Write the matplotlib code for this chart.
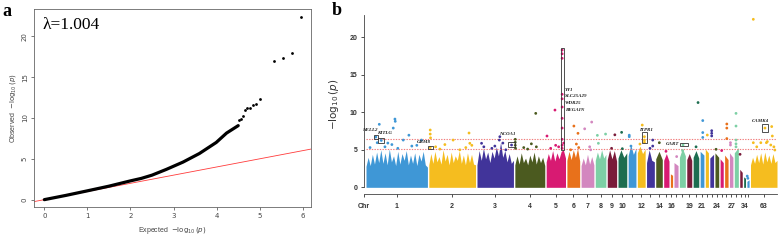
import matplotlib.pyplot as plt
import numpy as np
from matplotlib.patches import Rectangle

# ---------------- data ----------------
# panel a: QQ plot (expected vs observed -log10 p)
qq_expected = [0, 0.5, 1.0, 1.5, 2.0, 2.25, 2.5, 2.83, 3.22, 3.6, 3.99, 4.23, 4.5]
qq_observed = [0, 0.52, 1.08, 1.65, 2.3, 2.6, 3.0, 3.7, 4.6, 5.65, 7.0, 8.15, 9.06]
tail_expected = [4.52, 4.57, 4.6, 4.65, 4.7, 4.77, 4.85, 4.92, 5.0, 5.33, 5.53, 5.74, 5.96]
tail_observed = [9.7, 9.9, 10.3, 11.0, 11.26, 11.26, 11.6, 11.74, 12.3, 17.0, 17.3, 17.9, 22.4]
lambda_gc = 1.004

# panel b: Manhattan plot
chrom_labels = ['1', '2', '3', '4', '5', '6', '7', '8', '9', '10', '', '12', '', '14', '',
                '16', '', '', '19', '', '21', '', '', '24', '', '', '27', '', '', '34', '', '63']
chrom_len = [197, 150, 117, 96, 62, 41, 41, 34, 30, 28, 25, 25, 25, 21, 17, 7,
             13, 19, 16, 18, 12, 10, 12, 12, 10, 11, 11, 13, 8, 6, 7, 85]
# upper envelope of the dense mass of SNPs in each chromosome
chrom_env = [
    [2.8, 4.0, 2.9, 4.4, 3.1, 4.7, 3.3, 5.0, 3.2, 4.6, 3.0, 5.1, 3.4, 4.2, 2.9,
     4.8, 3.1, 4.5, 3.6, 4.9, 3.0, 4.3, 3.2, 4.6, 2.9, 4.4, 3.5, 4.8, 3.0, 2.7],
    [3.0, 4.5, 3.2, 4.8, 3.4, 4.1, 3.1, 5.0, 3.5, 4.4, 3.0, 4.7, 3.3, 4.2, 3.6,
     4.9, 3.2, 4.3, 3.0, 4.6, 3.3, 4.4, 3.1, 3.0],
    [3.0, 4.9, 3.6, 5.2, 3.8, 4.7, 3.3, 4.8, 3.9, 5.4, 4.2, 6.0, 4.0, 4.9, 3.4, 4.5, 3.2, 3.6],
    [3.0, 4.2, 3.1, 4.6, 3.3, 3.9, 3.0, 4.3, 3.4, 4.7, 3.1, 4.2, 3.3, 4.0, 2.9],
    [3.4, 4.5, 3.6, 4.9, 3.5, 4.6, 3.8, 4.8, 5.0, 3.9],
    [3.6, 4.8, 3.7, 5.0, 4.0, 5.2, 3.5],
    [2.9, 3.9, 3.0, 4.4, 3.1, 4.1, 3.0],
    [3.6, 4.7, 3.8, 5.0, 3.9, 4.4],
    [3.7, 5.0, 3.8, 4.9, 3.5],
    [3.9, 5.0, 4.0, 4.6],
    [4.2, 5.7, 4.4, 5.2],
    [4.6, 5.5, 4.5, 5.1],
    [3.3, 5.0, 3.6, 3.4],
    [3.8, 4.8, 3.7],
    [3.6, 4.5, 3.5],
    [1.8, 1.6],
    [3.3, 2.9],
    [4.0, 5.2, 4.2],
    [3.7, 4.5, 3.6],
    [4.0, 4.9, 3.9],
    [4.8, 4.3],
    [5.1, 4.6],
    [3.9, 4.4],
    [4.6, 4.0],
    [3.8, 3.3],
    [4.3, 3.7],
    [4.6, 4.0],
    [4.6, 5.3],
    [2.4, 2.0],
    [1.4, 1.2],
    [0.8, 1.0],
    [3.0, 4.0, 3.2, 4.4, 3.3, 4.6, 3.1, 4.7, 3.4, 4.3, 3.2, 4.5, 3.3, 3.6],
]
# individual SNPs above the dense mass: chromosome (1-based), position (Mb), -log10 p
pt_chr = ([1] * 17 + [2] * 13 + [3] * 9 + [4] * 9 + [5] * 17 + [6] * 5 + [7] * 4 + [8] * 3
          + [9] * 2 + [10] * 2 + [11] * 3 + [12] * 5 + [13] * 3 + [14, 15, 17] + [18] * 2
          + [20] * 2 + [21] * 3 + [22] + [23] * 3 + [24, 25] + [26] * 3 + [27] * 2 + [28] * 5
          + [29] + [31] * 2 + [32] * 12)
pt_pos = [42.6, 92.8, 93.8, 87.4, 137.6, 119.4, 31.5, 49, 36, 60.8, 178, 83, 147, 102, 13, 163, 70,
          4.5, 4.5, 5.5, 4.5, 21.8, 51.5, 78, 129, 131.5, 35.5, 99.5, 118.7, 138,
          73.3, 71.7, 14.7, 22, 47.7, 57.3, 83, 110.9, 92.5,
          67, 53, 1.3, 1.3, 1.3, 2.2, 28.5, 69, 41,
          28.2, 2.6, 30.4, 51.2, 51.2, 51.2, 51.2, 51.2, 51.2, 51.2, 51.2, 51.2, 51.2, 51.2, 14.4, 40, 56,
          22.4, 35.5, 30.4, 37.8, 12,
          11.5, 34, 27.5, 30.7,
          6.7, 10, 33,
          24.3, 13.8,
          11.5, 13.8,
          3.5, 3.5, 9,
          15.7, 22.7, 22.7, 22.7, 8.3,
          19.8, 19.8, 11,
          11.5, 7.4, 8.6,
          11.5, 10,
          15.7, 9.3,
          8.3, 8.3, 8.3,
          6.4,
          6, 6, 6,
          3.5, 5,
          7, 7, 7,
          3.2, 3.2,
          5.5, 5.5, 5.5, 5.5, 5.5,
          1,
          1, 3,
          9, 46.4, 68, 70, 9, 51, 65, 20, 78, 33, 54, 75]
pt_logp = [8.4, 9.1, 8.8, 7.9, 6.95, 6.3, 6.7, 6.25, 5.95, 5.4, 6.3, 5.7, 5.5, 5.2, 5.3, 5.6, 5.9,
           7.64, 7.1, 6.6, 5.3, 5.4, 5.7, 6.3, 7.24, 5.87, 5.1, 5.0, 5.3, 5.6,
           6.75, 6.3, 5.87, 5.4, 5.2, 5.5, 5.9, 5.64, 5.0,
           9.86, 5.8, 6.4, 6.0, 5.6, 5.2, 5.3, 5.4, 5.1,
           10.3, 6.84, 5.6, 18.3, 17.8, 17.2, 12.4, 11.8, 10.7, 9.2, 7.9, 6.4, 5.6, 5.2, 5.2, 5.4, 5.9,
           8.17, 7.2, 5.77, 5.3, 5.0,
           7.8, 8.7, 5.4, 5.0,
           6.93, 5.87, 7.1,
           7.0, 5.2,
           7.33, 5.15,
           6.95, 6.75, 5.5,
           8.3, 6.75, 6.3, 6.0, 5.77,
           6.3, 5.5, 5.2,
           5.95, 4.8, 4.1,
           5.65, 4.9,
           11.3, 5.4,
           8.9, 7.3, 6.65,
           6.97,
           7.55, 7.2, 6.85,
           5.07, 4.9,
           8.44, 7.9, 6.5,
           5.95, 5.64,
           9.86, 8.17, 6.3, 5.8, 5.4,
           4.4,
           1.5, 1.2,
           22.4, 7.9, 8.1, 6.84, 5.95, 5.95, 5.64, 5.4, 4.97, 5.95, 6.1, 5.4]
thresholds = [6.4, 5.15]
# highlighted regions: chromosome, centre (Mb), width (Mb), low, high
box_chr = [1, 1, 2, 3, 5, 12, 18, 32]
box_pos = [31.5, 49, 4.5, 110.9, 51.2, 22.7, 14.7, 46.5]
box_width = [11.8, 19.2, 16, 21.6, 9.6, 16, 23.6, 21.2]
box_low = [6.4, 5.95, 5.07, 5.33, 5.0, 5.85, 5.45, 7.4]
box_high = [7.0, 6.6, 5.55, 6.08, 18.6, 7.35, 5.9, 8.4]
gene_names = ['NELL2', 'KITLG', 'GRM8', 'NCOA1', 'YY1', 'SLC25A29', 'WDR25', 'BEGAIN',
              'ITPR1', 'GART', 'CAMK4']

colors = ['#3F97D6', '#F5BD1F', '#41349A', '#4B5A1F', '#D81A72',
          '#E8711B', '#D387BF', '#7DD0A5', '#7A1C3A', '#1D6D50']

# ---------------- figure ----------------
W, H = 778, 240
fig = plt.figure(figsize=(W / 100, H / 100), dpi=100)


def px_axes(left, top, right, bottom):
    return fig.add_axes([left / W, 1 - bottom / H, (right - left) / W, (bottom - top) / H])


sans = ['Liberation Sans', 'DejaVu Sans']
serif = ['Liberation Serif', 'DejaVu Serif']

# ---- panel a ----
ax1 = px_axes(34, 9.3, 311, 207)
ax1.plot([-1, 7], [-1, 7], color='#ff3b3b', lw=0.6, zorder=1)
ax1.plot(qq_expected, qq_observed, color='black', lw=2.3, solid_capstyle='round', zorder=2)
ax1.scatter(tail_expected, tail_observed, s=4, color='black', lw=0, zorder=3)
ax1.set_xlim(-0.24, 6.19)
ax1.set_ylim(-0.9, 23.3)
ax1.set_xticks(range(7))
ax1.set_yticks([0, 5, 10, 15, 20])
ax1.tick_params(direction='out', length=2.5, width=0.5, labelsize=5, colors='#444', pad=2)
for lab in ax1.get_yticklabels():
    lab.set_rotation(90)
    lab.set_va('center')
for sp in ax1.spines.values():
    sp.set_color('#666')
    sp.set_linewidth(0.6)
ax1.set_xlabel('Expected  $-\\log_{10}(\\it{p})$', fontsize=5, color='#444', family=sans, labelpad=4)
ax1.set_ylabel('Observed  $-\\log_{10}(\\it{p})$', fontsize=5, color='#444', family=sans, labelpad=3)
ax1.text(0.03, 0.96, '\u03bb=%.3f' % lambda_gc, transform=ax1.transAxes, family=serif,
         fontsize=12.5, va='top', ha='left')
fig.text(2 / W, 1 - 3 / H, 'a', family=serif, fontsize=13, fontweight='bold', va='top')

# ---- panel b ----
gap = 4.5
starts = np.concatenate([[0], np.cumsum(np.array(chrom_len[:-1]) + gap)])
total = starts[-1] + chrom_len[-1]
ax2 = px_axes(363.7, 14.8, 777, 194.3)
ax2.set_xlim(-7.4, total)
ax2.set_ylim(-0.93, 23.0)

for i, (L, env) in enumerate(zip(chrom_len, chrom_env)):
    xs = starts[i] + np.linspace(0, L, len(env))
    ax2.fill_between(xs, 0, env, color=colors[i % 10], lw=0, zorder=1)

for y in thresholds:
    ax2.hlines(y, 0, total, colors='#f07c7c', linestyles=(0, (1.2, 1.2)), lw=0.8, zorder=2)

px_x = [starts[c - 1] + p for c, p in zip(pt_chr, pt_pos)]
pt_col = [colors[(c - 1) % 10] for c in pt_chr]
ax2.scatter(px_x, pt_logp, s=4, c=pt_col, lw=0, zorder=3)

for c, p, w, lo, hi in zip(box_chr, box_pos, box_width, box_low, box_high):
    ax2.add_patch(Rectangle((starts[c - 1] + p - w / 2, lo), w, hi - lo, fill=False,
                            ec='#333', lw=0.6, zorder=4))

label_x = [12.8, 59.3, 186.1, 452.3, 638.7, 638.7, 638.7, 638.7, 899.2, 984.9, 1264]
label_y = [7.7, 7.2, 6.1, 7.15, 13.0, 12.2, 11.3, 10.35, 7.6, 5.77, 8.9]
label_ha = ['center'] * 4 + ['left'] * 4 + ['center'] * 3
for name, x, y, ha in zip(gene_names, label_x, label_y, label_ha):
    ax2.text(x, y, name, family=serif, style='italic', fontweight='bold', fontsize=3.6,
             ha=ha, va='center', color='#222', zorder=5)

centers = starts + np.array(chrom_len) / 2
ax2.set_xticks([-7.4] + list(centers))
ax2.set_xticklabels(['Chr'] + chrom_labels)
ax2.set_yticks([0, 5, 10, 15, 20])
ax2.tick_params(axis='y', direction='out', length=2.5, width=0.6, labelsize=5, colors='#333', pad=2)
ax2.tick_params(axis='x', direction='out', length=2.5, width=0.6, labelsize=5, colors='#333', pad=4)
for lab in ax2.get_xticklabels() + ax2.get_yticklabels():
    lab.set_fontweight('bold')
    lab.set_family(sans)
ax2.spines['top'].set_visible(False)
ax2.spines['right'].set_visible(False)
ax2.spines['left'].set_bounds(0, 23)
for sp in ('left', 'bottom'):
    ax2.spines[sp].set_color('#444')
    ax2.spines[sp].set_linewidth(0.6)
ax2.set_ylabel('$-\\log_{10}(\\it{p})$', fontsize=7.5, family=sans, color='#333', labelpad=6)
fig.text(332 / W, 1 - 2 / H, 'b', family=serif, fontsize=13, fontweight='bold', va='top')

fig.savefig('out.png', dpi=100)
